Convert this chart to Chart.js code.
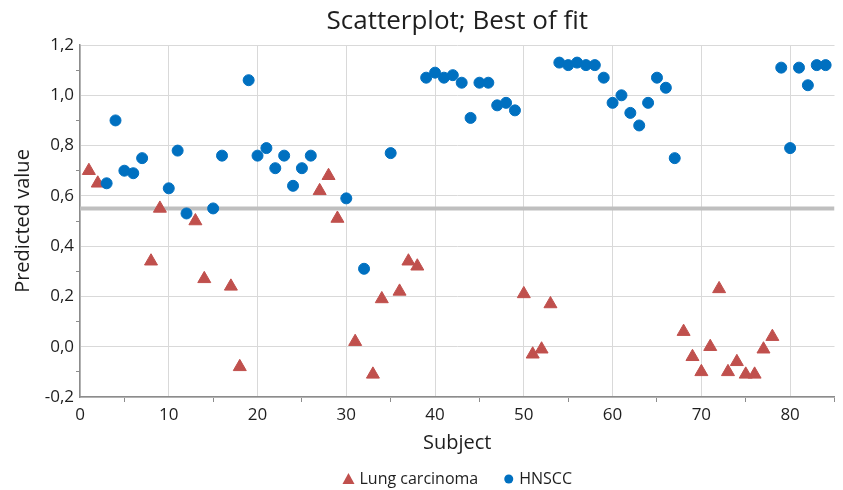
<!DOCTYPE html>
<html>
<head>
<meta charset="utf-8">
<script src="https://cdn.jsdelivr.net/npm/chart.js@4/dist/chart.umd.min.js"></script>
<style>
  html, body { margin: 0; padding: 0; background: #ffffff; }
  #wrap { width: 843px; height: 490px; position: relative; }
</style>
</head>
<body>
<div id="wrap"><canvas id="c" width="843" height="490"></canvas></div>
<script>
// ---- data ----
const chartTitle = 'Scatterplot; Best of fit';
const xTitle = 'Subject';
const yTitle = 'Predicted value';
const seriesNames = ['Lung carcinoma', 'HNSCC'];

const lungX = [1, 2, 8, 9, 13, 14, 17, 18, 27, 28, 29, 31, 33, 34, 36, 37, 38, 50, 51, 52, 53,
               68, 69, 70, 71, 72, 73, 74, 75, 76, 77, 78];
const lungY = [0.70, 0.65, 0.34, 0.55, 0.50, 0.27, 0.24, -0.08, 0.62, 0.68, 0.51, 0.02, -0.11, 0.19, 0.22, 0.34, 0.32,
               0.21, -0.03, -0.01, 0.17, 0.06, -0.04, -0.10, 0.00, 0.23, -0.10, -0.06, -0.11, -0.11, -0.01, 0.04];

const hnX = [3, 4, 5, 6, 7, 10, 11, 12, 15, 16, 19, 20, 21, 22, 23, 24, 25, 26, 30, 32, 35,
             39, 40, 41, 42, 43, 44, 45, 46, 47, 48, 49,
             54, 55, 56, 57, 58, 59, 60, 61, 62, 63, 64, 65, 66, 67,
             79, 80, 81, 82, 83, 84];
const hnY = [0.65, 0.90, 0.70, 0.69, 0.75, 0.63, 0.78, 0.53, 0.55, 0.76, 1.06, 0.76, 0.79, 0.71, 0.76, 0.64, 0.71, 0.76, 0.59, 0.31, 0.77,
             1.07, 1.09, 1.07, 1.08, 1.05, 0.91, 1.05, 1.05, 0.96, 0.97, 0.94,
             1.13, 1.12, 1.13, 1.12, 1.12, 1.07, 0.97, 1.00, 0.93, 0.88, 0.97, 1.07, 1.03, 0.75,
             1.11, 0.79, 1.11, 1.04, 1.12, 1.12];

const cutoff = 0.55;
const xRange = [0, 85];
const yRange = [-0.2, 1.2];

// ---- styles ----
const RED = '#C0504D';
const BLUE = '#0070C0';
const TEXT = '#1e1e1e';
const GRID = '#d9d9d9';
const AXIS = '#8c8c8c';
const FONT = "'Open Sans', sans-serif";

Chart.defaults.font.family = FONT;
Chart.defaults.color = TEXT;

const lungData = lungX.map((x, i) => ({ x: x, y: lungY[i] }));
const hnData = hnX.map((x, i) => ({ x: x, y: hnY[i] }));
const cutoffData = xRange.map(x => ({ x: x, y: cutoff }));

function fmtY(v) {
  const r = Math.round(v * 10) / 10;
  return (r === 0 ? 0 : r).toFixed(1).replace('.', ',');
}

// custom title + legend centred on the plot area
const overlay = {
  id: 'overlay',
  afterDraw(chart) {
    const ctx = chart.ctx;
    const a = chart.chartArea;
    const cx = (a.left + a.right) / 2;
    ctx.save();
    ctx.fillStyle = TEXT;
    ctx.textAlign = 'center';
    ctx.textBaseline = 'middle';
    ctx.font = '26px ' + FONT;
    ctx.fillText(chartTitle, cx, 22);

    // legend
    ctx.font = '16px ' + FONT;
    const w1 = ctx.measureText(seriesNames[0]).width;
    const w2 = ctx.measureText(seriesNames[1]).width;
    const mk1 = 12, g1 = 5, gap = 26, mk2 = 9, g2 = 6;
    const total = mk1 + g1 + w1 + gap + mk2 + g2 + w2;
    let x = cx - total / 2;
    const ly = 479;
    ctx.fillStyle = RED;
    ctx.beginPath();
    ctx.moveTo(x + mk1 / 2, ly - 6);
    ctx.lineTo(x + mk1, ly + 5);
    ctx.lineTo(x, ly + 5);
    ctx.closePath();
    ctx.fill();
    x += mk1 + g1;
    ctx.fillStyle = TEXT;
    ctx.textAlign = 'left';
    ctx.fillText(seriesNames[0], x, ly);
    x += w1 + gap;
    ctx.fillStyle = BLUE;
    ctx.beginPath();
    ctx.arc(x + mk2 / 2, ly, mk2 / 2, 0, Math.PI * 2);
    ctx.fill();
    x += mk2 + g2;
    ctx.fillStyle = TEXT;
    ctx.fillText(seriesNames[1], x, ly);
    ctx.restore();
  }
};

new Chart(document.getElementById('c'), {
  type: 'scatter',
  data: {
    datasets: [
      {
        label: seriesNames[1],
        data: hnData,
        pointStyle: 'circle',
        pointRadius: 5.5,
        pointBorderWidth: 1,
        backgroundColor: BLUE,
        borderColor: BLUE,
        order: 0
      },
      {
        label: seriesNames[0],
        data: lungData,
        pointStyle: 'triangle',
        pointRadius: 7.5,
        pointBorderWidth: 1,
        backgroundColor: RED,
        borderColor: RED,
        order: 1
      },
      {
        label: 'cutoff',
        data: cutoffData,
        type: 'line',
        showLine: true,
        pointRadius: 0,
        borderColor: '#bfbfbf',
        borderWidth: 4,
        fill: false,
        order: 2
      }
    ]
  },
  options: {
    responsive: false,
    animation: false,
    events: [],
    layout: { padding: { top: 45, left: 0, right: 1, bottom: 33 } },
    plugins: {
      legend: { display: false },
      title: { display: false },
      tooltip: { enabled: false }
    },
    scales: {
      x: {
        type: 'linear',
        min: xRange[0],
        max: xRange[1],
        afterFit: s => { s.height = 60; },
        border: { color: AXIS, width: 1.5 },
        grid: {
          color: c => (c.tick && c.tick.value % 10 === 0) ? GRID : 'rgba(0,0,0,0)',
          tickColor: c => (c.tick && c.tick.value % 10 === 0) ? 'rgba(0,0,0,0)' : AXIS,
          tickLength: 5,
          lineWidth: 1
        },
        ticks: {
          stepSize: 5,
          autoSkip: false,
          maxRotation: 0,
          padding: 3,
          font: { size: 17 },
          color: TEXT,
          callback: v => (v % 10 === 0 ? String(v) : '')
        },
        title: {
          display: true,
          text: xTitle,
          font: { size: 20 },
          color: TEXT,
          padding: { top: 0, bottom: 2 }
        }
      },
      y: {
        type: 'linear',
        min: yRange[0],
        max: yRange[1],
        afterFit: s => { s.width = 80; },
        border: { color: AXIS, width: 1.5 },
        grid: {
          color: c => (c.tick && Math.round(c.tick.value * 10) % 2 === 0) ? GRID : 'rgba(0,0,0,0)',
          tickColor: c => (c.tick && Math.round(c.tick.value * 10) % 2 === 0) ? 'rgba(0,0,0,0)' : AXIS,
          tickLength: 4,
          lineWidth: 1
        },
        ticks: {
          stepSize: 0.1,
          autoSkip: false,
          padding: 2,
          font: { size: 17 },
          color: TEXT,
          callback: v => (Math.round(v * 10) % 2 === 0 ? fmtY(v) : '')
        },
        title: {
          display: true,
          text: yTitle,
          font: { size: 20 },
          color: TEXT,
          padding: { top: 11, bottom: 0 }
        }
      }
    }
  },
  plugins: [overlay]
});
</script>
</body>
</html>
